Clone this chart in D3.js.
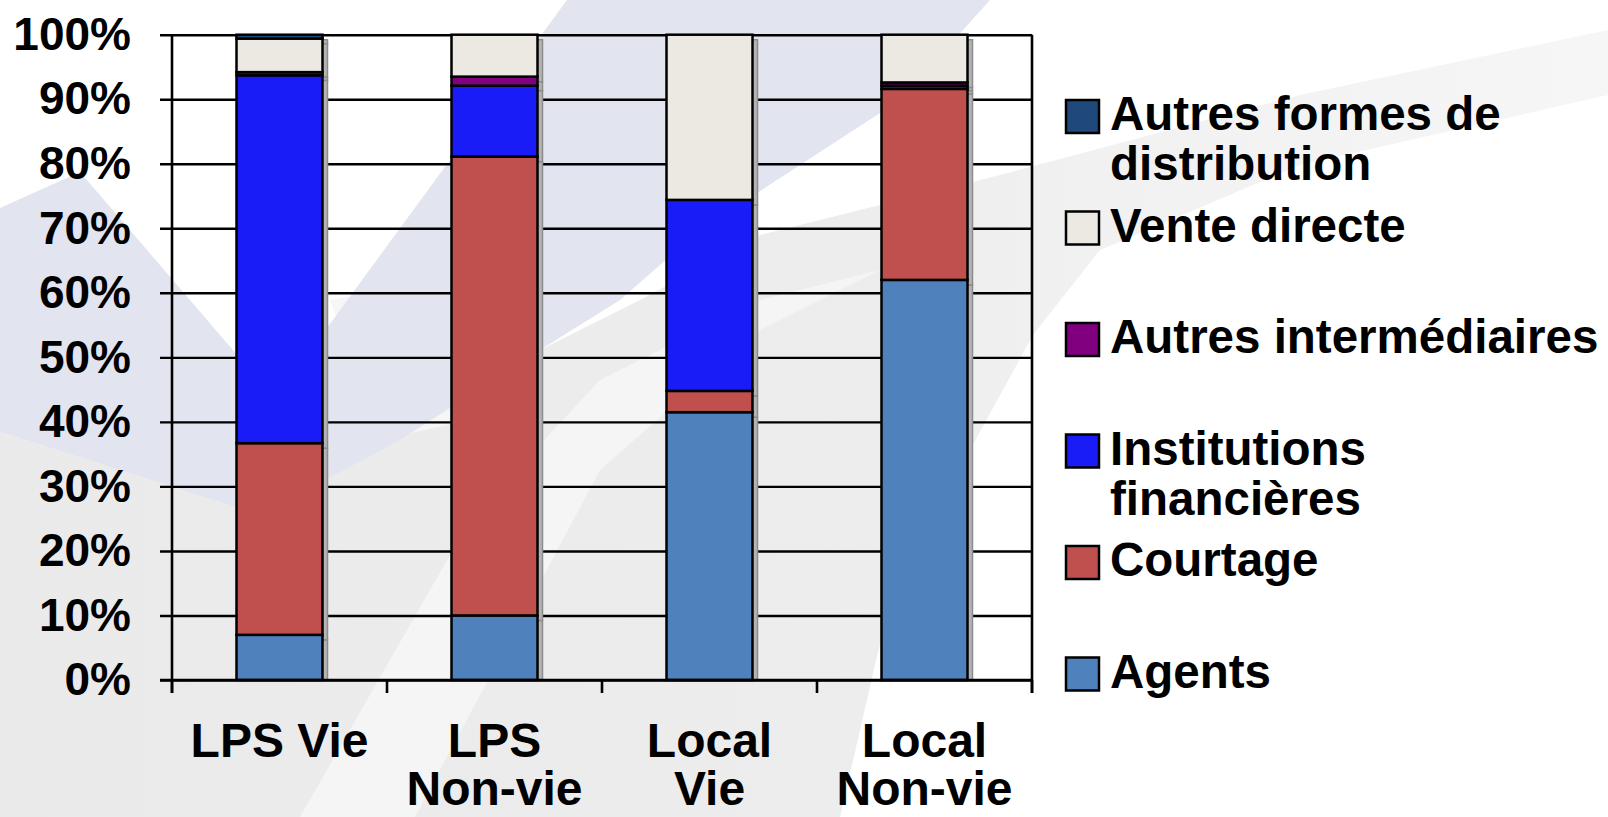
<!DOCTYPE html>
<html><head><meta charset="utf-8">
<script src="https://cdn.jsdelivr.net/npm/d3@7"></script>
<style>html,body{margin:0;padding:0;background:#fff;overflow:hidden}svg{display:block}</style>
</head><body><svg id="c" width="1608" height="817"></svg>
<script>
// ---- data ----
const categories = ["LPS Vie", "LPS Non-vie", "Local Vie", "Local Non-vie"];
const categoryLines = [["LPS Vie"], ["LPS", "Non-vie"], ["Local", "Vie"], ["Local", "Non-vie"]];
const seriesKeys = ["Agents", "Courtage", "Institutions financières", "Autres intermédiaires", "Vente directe", "Autres formes de distribution"];
const agents = [7.0, 10.0, 41.5, 62.0];
const courtage = [29.7, 71.1, 3.3, 29.6];
const institutions = [57.0, 11.0, 29.6, 0.5];
const autresIntermediaires = [0.5, 1.4, 0, 0.5];
const venteDirecte = [5.2, 6.5, 25.6, 7.4];
const autresFormes = [0.6, 0, 0, 0];
const yTicks = [0, 10, 20, 30, 40, 50, 60, 70, 80, 90, 100];
const yTickLabels = ["0%", "10%", "20%", "30%", "40%", "50%", "60%", "70%", "80%", "90%", "100%"];
const legendKeys = ["Autres formes de distribution", "Vente directe", "Autres intermédiaires", "Institutions financières", "Courtage", "Agents"];
const legendLines = [["Autres formes de", "distribution"], ["Vente directe"], ["Autres intermédiaires"], ["Institutions", "financières"], ["Courtage"], ["Agents"]];
const colors = ["#4f81bd", "#c0504d", "#1a1cf8", "#800080", "#ece9e2", "#1f497d"];

// ---- setup ----
const svg = d3.select("#c");
const FONT = "'Liberation Sans', Arial, sans-serif";
const W = 1608, H = 817;
const L = 172, R = 1032, T = 34.7, B = 680;

// background decoration
const defs = svg.append("defs");
const gr = defs.append("linearGradient").attr("id", "gfade").attr("gradientUnits", "userSpaceOnUse")
  .attr("x1", 0).attr("y1", 0).attr("x2", 1608).attr("y2", 0);
gr.append("stop").attr("offset", 0).attr("stop-color", "#eaeaea");
gr.append("stop").attr("offset", 0.55).attr("stop-color", "#ededed");
gr.append("stop").attr("offset", 0.68).attr("stop-color", "#f1f1f1");
gr.append("stop").attr("offset", 1).attr("stop-color", "#f6f6f6");

const bg = svg.append("g");
bg.append("rect").attr("width", W).attr("height", H).attr("fill", "#ffffff");
const decor = [
  {fill: "url(#gfade)", pts: [[0,432],[260,515],[540,350],[640,300],[760,235],[880,205],[1000,175],[1300,95],[1608,30],[1608,95],[1300,165],[1100,250],[1033,335],[970,450],[890,600],[840,817],[0,817]]},
  {fill: "#f5f5f5", pts: [[300,817],[415,817],[600,470],[760,330],[880,270],[760,300],[600,380],[470,520]]},
  {fill: "#f6f6f6", pts: [[330,300],[450,280],[560,290],[470,420],[380,440]]},
  {fill: "#e2e4ef", pts: [[0,208],[80,172],[275,399],[567,0],[990,0],[900,100],[800,165],[700,230],[620,300],[540,350],[400,440],[260,515],[0,432]]}
];
bg.selectAll("polygon").data(decor).join("polygon")
  .attr("points", d => d.pts.map(p => p.join(",")).join(" "))
  .attr("fill", d => d.fill);

// scales
const x = d3.scaleBand().domain(categories).range([L, R]).paddingInner(0.6).paddingOuter(0.3);
const y = d3.scaleLinear().domain([0, 100]).range([B, T]);
const color = d3.scaleOrdinal().domain(seriesKeys).range(colors);

// gridlines + y axis
const yAxis = d3.axisLeft(y).tickValues(yTicks).tickFormat((d, i) => yTickLabels[i])
  .tickSizeInner(-(R - L)).tickSizeOuter(0).tickPadding(41);
const ga = svg.append("g").attr("transform", `translate(${L},0)`).call(yAxis);
ga.select(".domain").remove();
ga.selectAll(".tick line").attr("x1", -12).attr("stroke", "#000").attr("stroke-width", 2.4);
ga.selectAll(".tick text").attr("font-family", FONT).attr("font-weight", "bold")
  .attr("font-size", 46).attr("fill", "#000");

// left and right axis lines
svg.append("line").attr("x1", L).attr("x2", L).attr("y1", T).attr("y2", B + 13).attr("stroke", "#000").attr("stroke-width", 2.6);
svg.append("line").attr("x1", R).attr("x2", R).attr("y1", T).attr("y2", B + 13).attr("stroke", "#000").attr("stroke-width", 2.6);

// x category ticks at band boundaries
const step = x.step();
const bounds = d3.range(categories.length + 1).map(i => x.range()[0] + i * step);
svg.append("g").selectAll("line").data(bounds).join("line")
  .attr("x1", d => d).attr("x2", d => d).attr("y1", B).attr("y2", B + 13)
  .attr("stroke", "#000").attr("stroke-width", 2.6);

// stack
const rows = categories.map((c, i) => ({
  cat: c,
  "Agents": agents[i], "Courtage": courtage[i], "Institutions financières": institutions[i],
  "Autres intermédiaires": autresIntermediaires[i], "Vente directe": venteDirecte[i],
  "Autres formes de distribution": autresFormes[i]
}));
const stacked = d3.stack().keys(seriesKeys)(rows);
const bw = x.bandwidth();

// shadows
const sh = svg.append("g");
stacked.forEach(s => {
  sh.selectAll(null).data(s).join("rect")
    .attr("x", d => x(d.data.cat) + 5)
    .attr("y", d => y(d[1]) + 5)
    .attr("width", bw)
    .attr("height", d => Math.max(0, Math.min(y(d[0]) + 5, B) - (y(d[1]) + 5)))
    .attr("fill", "#b4b4b4").attr("stroke", "#8c8c8c").attr("stroke-width", 1.5);
});

// bars
const gb = svg.append("g");
gb.selectAll("g").data(stacked).join("g").attr("fill", d => color(d.key))
  .selectAll("rect").data(d => d).join("rect")
  .attr("x", d => x(d.data.cat))
  .attr("y", d => y(d[1]))
  .attr("width", bw)
  .attr("height", d => y(d[0]) - y(d[1]))
  .attr("stroke", "#000").attr("stroke-width", 2.5);

// baseline (0% line) on top
svg.append("line").attr("x1", L - 12).attr("x2", R).attr("y1", B).attr("y2", B).attr("stroke", "#000").attr("stroke-width", 2.6);

// x labels
const gx = svg.append("g");
categories.forEach((c, i) => {
  const t = gx.append("text").attr("x", x(c) + bw / 2).attr("text-anchor", "middle")
    .attr("font-family", FONT).attr("font-weight", "bold").attr("font-size", 48).attr("fill", "#000");
  categoryLines[i].forEach((ln, j) => t.append("tspan").attr("x", x(c) + bw / 2).attr("y", 757 + j * 48).text(ln));
});

// legend
const lg = svg.append("g");
legendKeys.forEach((k, i) => {
  const top = 100 + i * 111.5;
  lg.append("rect").attr("x", 1066).attr("y", top).attr("width", 33).attr("height", 33)
    .attr("fill", color(k)).attr("stroke", "#000").attr("stroke-width", 2.5);
  const t = lg.append("text").attr("font-family", FONT).attr("font-weight", "bold")
    .attr("font-size", 47.5).attr("fill", "#000");
  legendLines[i].forEach((ln, j) => t.append("tspan").attr("x", 1110).attr("y", top + 30 + j * 50).text(ln));
});
</script>
</body></html>
